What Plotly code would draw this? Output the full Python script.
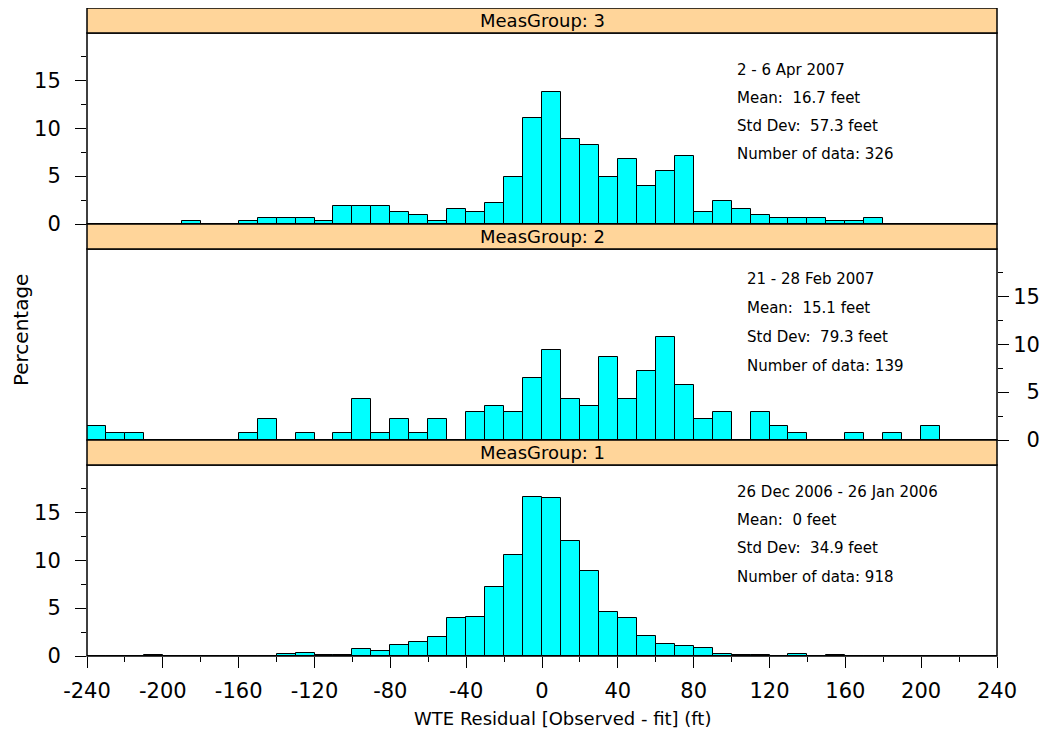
import plotly.graph_objects as go

# ---- data ----
bin_left = list(range(-240, 240, 10))  # 48 bins of 10 ft
bin_width = 10

pct_group3 = [0, 0, 0, 0, 0, 0.31, 0, 0, 0.31, 0.61, 0.61, 0.61, 0.31, 1.84, 1.84, 1.84,
              1.23, 0.92, 0.31, 1.53, 1.23, 2.15, 4.91, 11.04, 13.8, 8.9, 8.28, 4.91, 6.75, 3.99, 5.52, 7.06,
              1.23, 2.45, 1.53, 0.92, 0.61, 0.61, 0.61, 0.31, 0.31, 0.61, 0, 0, 0, 0, 0, 0]
pct_group2 = [1.44, 0.72, 0.72, 0, 0, 0, 0, 0, 0.72, 2.16, 0, 0.72, 0, 0.72, 4.32, 0.72,
              2.16, 0.72, 2.16, 0, 2.88, 3.6, 2.88, 6.47, 9.35, 4.32, 3.6, 8.63, 4.32, 7.19, 10.79, 5.76,
              2.16, 2.88, 0, 2.88, 1.44, 0.72, 0, 0, 0.72, 0, 0.72, 0, 1.44, 0, 0, 0]
pct_group1 = [0, 0, 0, 0.11, 0, 0, 0, 0, 0, 0, 0.2, 0.35, 0.1, 0.06, 0.77, 0.56,
              1.2, 1.44, 1.97, 3.92, 4.03, 7.2, 10.55, 16.6, 16.47, 11.98, 8.83, 4.63, 3.96, 2.1, 1.27, 1.0,
              0.86, 0.2, 0.11, 0.11, 0.03, 0.2, 0.05, 0.11, 0, 0, 0, 0, 0, 0, 0, 0]

groups = ["MeasGroup: 3", "MeasGroup: 2", "MeasGroup: 1"]
stats = [
    ["2 - 6 Apr 2007", "Mean:  16.7 feet", "Std Dev:  57.3 feet", "Number of data: 326"],
    ["21 - 28 Feb 2007", "Mean:  15.1 feet", "Std Dev:  79.3 feet", "Number of data: 139"],
    ["26 Dec 2006 - 26 Jan 2006", "Mean:  0 feet", "Std Dev:  34.9 feet", "Number of data: 918"],
]
x_ticks = list(range(-240, 241, 40))
x_tick_labels = [str(v) for v in x_ticks]
y_ticks = [0, 5, 10, 15]
y_tick_labels = [str(v) for v in y_ticks]
y_tick_labels_right = [("\u2007" + s) if len(s) == 1 else s for s in y_tick_labels]
x_title = "WTE Residual [Observed - fit] (ft)"
y_title = "Percentage"

FONT = "DejaVu Sans, Arial, sans-serif"
centers = [b + bin_width / 2 for b in bin_left]

# ---- layout geometry (paper fractions) ----
H = 648.0
blocks = {}  # axis index -> (plot_y0, plot_y1, strip_y0, strip_y1)
for k, ax in enumerate([1, 2, 3]):
    base = k * 216
    blocks[ax] = (base / H, (base + 191) / H, (base + 191) / H, (base + 216) / H)

fig = go.Figure()
series = {3: pct_group3, 2: pct_group2, 1: pct_group1}
for ax in [3, 2, 1]:
    fig.add_trace(go.Bar(
        x=centers, y=series[ax], width=bin_width,
        marker=dict(color="#00FFFF", line=dict(color="black", width=1)),
        xaxis="x" if ax == 1 else f"x{ax}", yaxis="y" if ax == 1 else f"y{ax}",
        showlegend=False, hoverinfo="x+y",
    ))

common_y = dict(range=[0, 19.95], tickvals=y_ticks, ticks="outside", ticklen=11,
                tickcolor="black", tickwidth=1,
                minor=dict(dtick=2.5, tick0=0, ticks="outside", ticklen=5, tickcolor="black"),
                showgrid=False, zeroline=False, showline=False,
                tickfont=dict(family=FONT, size=21, color="black"))

layout = dict(
    width=1033, height=726,
    margin=dict(l=79, r=44, t=0, b=78),
    paper_bgcolor="white", plot_bgcolor="white",
    bargap=0,
    font=dict(family=FONT, color="black"),
    xaxis=dict(range=[-240, 240], tickvals=x_ticks, ticktext=x_tick_labels, ticks="outside",
               ticklen=11, tickcolor="black", ticklabelstandoff=5,
               minor=dict(dtick=20, tick0=-240, ticks="outside", ticklen=5, tickcolor="black"),
               showgrid=False, zeroline=False, showline=False, anchor="y",
               tickfont=dict(family=FONT, size=21, color="black")),
    xaxis2=dict(range=[-240, 240], matches="x", showticklabels=False, ticks="", showgrid=False,
                zeroline=False, anchor="y2"),
    xaxis3=dict(range=[-240, 240], matches="x", showticklabels=False, ticks="", showgrid=False,
                zeroline=False, anchor="y3"),
    yaxis=dict(domain=[blocks[1][0], blocks[1][1]], anchor="x", side="left",
               ticktext=y_tick_labels, ticklabelstandoff=10, **common_y),
    yaxis2=dict(domain=[blocks[2][0], blocks[2][1]], anchor="x2", side="right",
                ticktext=y_tick_labels_right, ticklabelstandoff=0, **common_y),
    yaxis3=dict(domain=[blocks[3][0], blocks[3][1]], anchor="x3", side="left",
                ticktext=y_tick_labels, ticklabelstandoff=10, **common_y),
)
fig.update_layout(**layout)

shapes = []
annotations = []
for ax, title in zip([3, 2, 1], groups):
    py0, py1, sy0, sy1 = blocks[ax]
    shapes.append(dict(type="rect", xref="paper", yref="paper", x0=0, x1=1, y0=py0, y1=py1,
                       line=dict(color="black", width=1.5), fillcolor="rgba(0,0,0,0)", layer="above"))
    shapes.append(dict(type="rect", xref="paper", yref="paper", x0=0, x1=1, y0=sy0, y1=sy1,
                       line=dict(color="black", width=1.5), fillcolor="#FFD59A", layer="above"))
    annotations.append(dict(text=title, xref="paper", yref="paper", x=0.5, y=(sy0 + sy1) / 2,
                            xanchor="center", yanchor="middle", showarrow=False,
                            font=dict(family=FONT, size=18, color="black")))

stat_pos = {3: (102, [0.806, 0.66, 0.513, 0.366]),
            2: (107, [0.842, 0.689, 0.537, 0.389]),
            1: (102, [0.858, 0.711, 0.563, 0.416])}
for ax, lines in zip([3, 2, 1], stats):
    xs, ys = stat_pos[ax]
    xr = "x" if ax == 1 else f"x{ax}"
    yr = ("y" if ax == 1 else f"y{ax}") + " domain"
    for t, yy in zip(lines, ys):
        annotations.append(dict(text=t, xref=xr, yref=yr, x=xs, y=yy, xanchor="left",
                                yanchor="middle", showarrow=False,
                                font=dict(family=FONT, size=15, color="black")))

annotations.append(dict(text=y_title, xref="paper", yref="paper", x=-0.0725, y=0.503,
                        xanchor="center", yanchor="middle", textangle=-90, showarrow=False,
                        font=dict(family=FONT, size=20, color="black")))
annotations.append(dict(text=x_title, xref="paper", yref="paper", x=0.522, y=-62 / H,
                        xanchor="center", yanchor="middle", showarrow=False,
                        font=dict(family=FONT, size=18, color="black")))

fig.update_layout(shapes=shapes, annotations=annotations)
fig.write_html("out.html")
